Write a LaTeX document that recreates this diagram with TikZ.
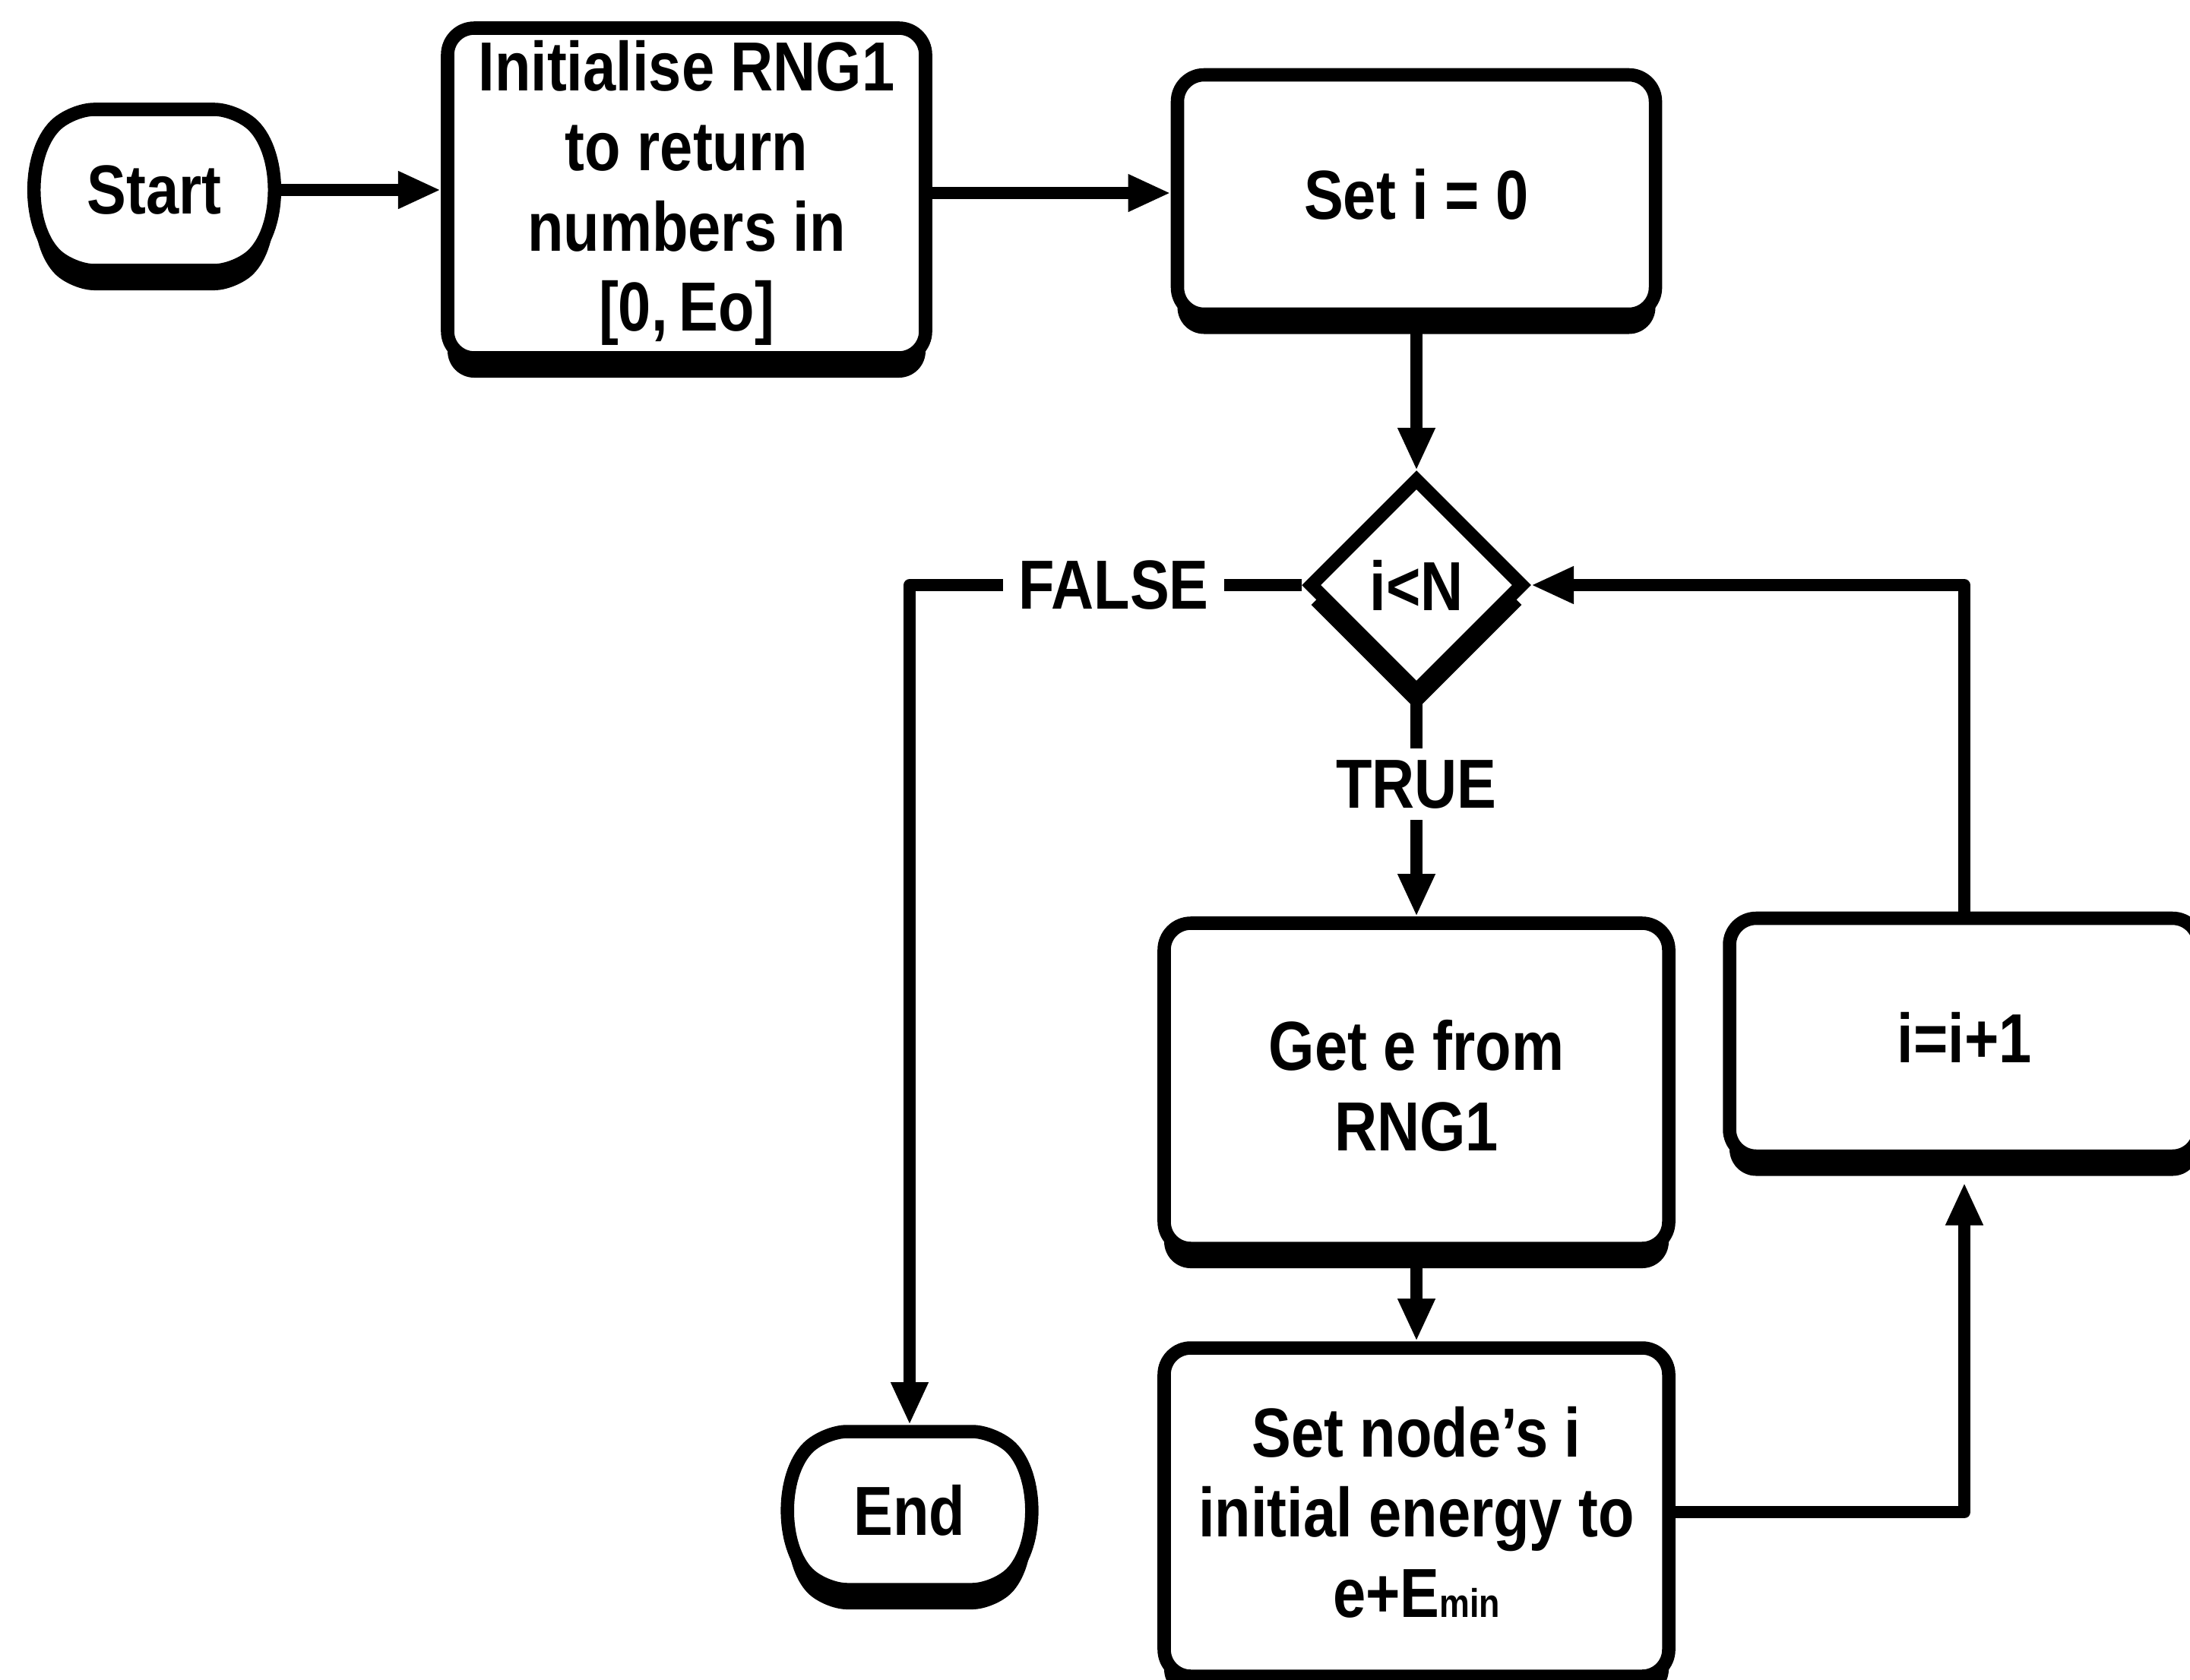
\documentclass[tikz,border=0pt]{standalone}
\usepackage{fontspec}
\setmainfont{Liberation Sans}[FakeStretch=0.85]
\usetikzlibrary{shapes.geometric,shapes.misc,arrows.meta,shadows}

\begin{document}
\begin{tikzpicture}[x=1cm,y=1cm,
  font=\fontsize{26}{30}\selectfont\bfseries,
  every node/.style={inner sep=0pt, align=center},
  boxshadow/.style={drop shadow={shadow xshift=0cm, shadow yshift=-0.26cm, fill=black, opacity=1}},
  procbox/.style={draw, line width=5pt, fill=white, rounded corners=0.35cm, boxshadow},
  terminal/.style={draw, line width=5pt, fill=white, rounded rectangle,
                   rounded rectangle arc length=90, rounded corners=0.3cm, boxshadow},
  decision/.style={draw, line width=5pt, fill=white, diamond, aspect=1, boxshadow},
  flow/.style={line width=4.5pt, line join=round, -{Triangle[width=13pt,length=16pt]}},
  condlabel/.style={fill=white, inner xsep=0.2cm, inner ysep=0.15cm}
]
\useasboundingbox (0,0) rectangle (28.82,-22.10);

% terminals
\node[terminal, minimum width=3.06cm, minimum height=2.12cm] (start) at (2.03,-2.50) {Start};
\node[terminal, minimum width=3.11cm, minimum height=2.08cm] (end) at (11.97,-19.88) {End};

% process steps
\node[procbox, minimum width=6.29cm, minimum height=4.34cm] (init) at (9.035,-2.54)
  {Initialise RNG1\\to return\\numbers in\\{[0,\,Eo]}};
\node[procbox, minimum width=6.29cm, minimum height=3.15cm] (set0) at (18.64,-2.56) {Set i = 0};
\node[decision, minimum width=2.84cm, minimum height=2.84cm] (dec) at (18.64,-7.70) {i<N};
\node[procbox, minimum width=6.64cm, minimum height=4.28cm] (get) at (18.64,-14.29)
  {Get e from\\RNG1};
\node[procbox, minimum width=6.64cm, minimum height=4.32cm] (setn) at (18.64,-19.90)
  {Set node's i\\initial energy to\\e+E{\fontsize{15}{15}\selectfont min}};
\node[procbox, minimum width=6.18cm, minimum height=3.13cm] (inc) at (25.85,-13.65) {i=i+1};

% connectors
\draw[flow] (start.east) -- (start.east -| init.west);
\draw[flow] (init.east) -- (init.east -| set0.west);
\draw[flow] (set0.south) -- (dec.north);
\draw[flow] (dec.west) -- node[condlabel, pos=0.48] {FALSE} (dec.west -| end.north) -- (end.north);
\draw[flow] (dec.south) -- node[condlabel, pos=0.39] {TRUE} (get.north);
\draw[flow] (get.south) -- (setn.north);
\draw[flow] (setn.east) -- (setn.east -| inc.south) -- ([yshift=-0.26cm]inc.south);
\draw[flow] (inc.north) -- (inc.north |- dec.east) -- (dec.east);
\end{tikzpicture}
\end{document}
